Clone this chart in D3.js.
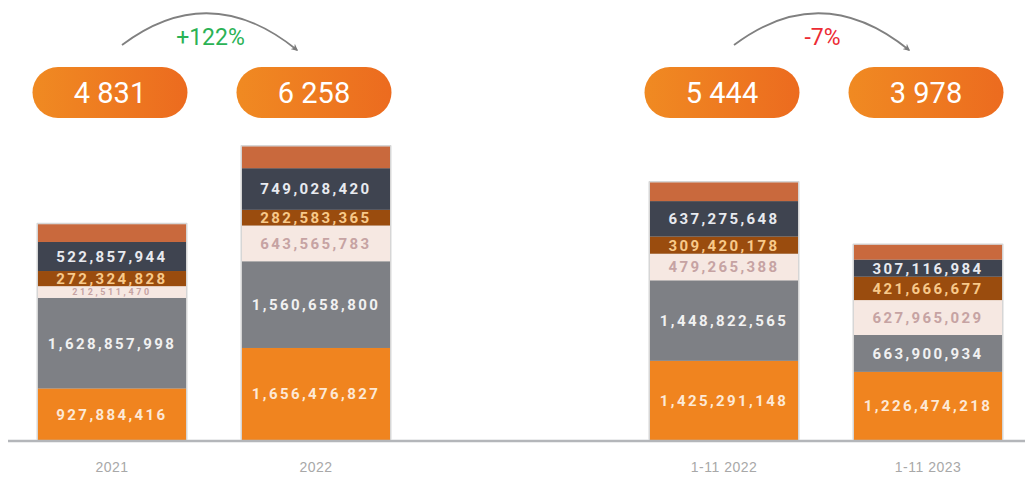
<!DOCTYPE html>
<html>
<head>
<meta charset="utf-8">
<title>Stacked totals</title>
<style>
body {
  margin: 0;
  background: #fff;
  font-family: Roboto, "Open Sans", sans-serif;
}
.seg-label {
  font-weight: 700;
  font-size: 15px;
  letter-spacing: 2.4px;
  text-anchor: middle;
}
.x-label {
  font-size: 14px;
  fill: #a8a8a8;
  text-anchor: middle;
  letter-spacing: 0.5px;
}
</style>
</head>
<body>
<svg id="chart" width="1025" height="477"></svg>

<script src="https://d3js.org/d3.v7.min.js"></script>
<script>

// categories, the empty one is just the gap between the two groups
var categories = ["2021", "2022", "", "1-11 2022", "1-11 2023"];
var barCats = ["2021", "2022", "1-11 2022", "1-11 2023"];
var totals = ["4 831", "6 258", "5 444", "3 978"];
var changes = ["+122%", "-7%"];

// series, bottom to top
var orangeVals = [927884416, 1656476827, 1425291148, 1226474218];
var grayVals   = [1628857998, 1560658800, 1448822565, 663900934];
var lightVals  = [212511470, 643565783, 479265388, 627965029];
var brownVals  = [272324828, 282583365, 309420178, 421666677];
var darkVals   = [522857944, 749028420, 637275648, 307116984];
var topVals    = [318000000, 390000000, 335000000, 265000000];

var series = [
  {key: "orange", values: orangeVals, fill: "#f0841f", text: "#fde9d6", label: true},
  {key: "gray",   values: grayVals,   fill: "#7e8085", text: "#f1f1f1", label: true},
  {key: "light",  values: lightVals,  fill: "#f6e8e2", text: "#c6a3a3", label: true},
  {key: "brown",  values: brownVals,  fill: "#9a4c0e", text: "#f8c98a", label: true},
  {key: "dark",   values: darkVals,   fill: "#3f4450", text: "#e8eaef", label: true},
  {key: "top",    values: topVals,    fill: "#c9693d", text: "#fff",    label: false}
];

var svg = d3.select("#chart");
var fmt = d3.format(",");

var x = d3.scaleBand()
    .domain(categories)
    .range([10, 1030])
    .paddingInner(0.2745)
    .paddingOuter(0.1372);

var y = d3.scaleLinear()
    .domain([0, 5.4e9])
    .range([440, 140]);

// stack rows
var rows = barCats.map(function(c, i) {
  var r = {cat: c};
  series.forEach(function(s) { r[s.key] = s.values[i]; });
  return r;
});
var stack = d3.stack().keys(series.map(function(s) { return s.key; }));
var layers = stack(rows);

var defs = svg.append("defs");
var grad = defs.append("linearGradient").attr("id", "pillGrad");
grad.append("stop").attr("offset", "0%").attr("stop-color", "#f08a22");
grad.append("stop").attr("offset", "100%").attr("stop-color", "#ec6b1f");

defs.append("marker")
    .attr("id", "arrowHead")
    .attr("viewBox", "0 0 10 10")
    .attr("refX", 8).attr("refY", 5)
    .attr("markerWidth", 7).attr("markerHeight", 7)
    .attr("markerUnits", "userSpaceOnUse")
    .attr("orient", "auto")
  .append("path")
    .attr("d", "M0,0 L10,5 L0,10 L3,5 Z")
    .attr("fill", "#7a7a7a");

// bar shadows
svg.append("g").selectAll("rect")
  .data(rows)
  .join("rect")
    .attr("x", function(d) { return x(d.cat) - 1.5; })
    .attr("width", x.bandwidth() + 3)
    .attr("y", function(d, i) { return y(layers[layers.length - 1][i][1]) - 1.5; })
    .attr("height", function(d, i) { return y(0) - y(layers[layers.length - 1][i][1]) + 1.5; })
    .attr("fill", "#d6d6d6")
    .attr("rx", 1);

var layerG = svg.append("g").selectAll("g")
  .data(layers)
  .join("g")
    .attr("fill", function(d, i) { return series[i].fill; });

layerG.selectAll("rect")
  .data(function(d) { return d; })
  .join("rect")
    .attr("x", function(d) { return x(d.data.cat); })
    .attr("width", x.bandwidth())
    .attr("y", function(d) { return y(d[1]); })
    .attr("height", function(d) { return y(d[0]) - y(d[1]); });

// segment value labels (thin segments get a smaller label)
layers.forEach(function(layer, i) {
  var s = series[i];
  if (!s.label) return;
  svg.append("g").selectAll("text")
    .data(layer)
    .join("text")
      .attr("class", "seg-label")
      .attr("x", function(d) { return x(d.data.cat) + x.bandwidth() / 2; })
      .attr("y", function(d) { return (y(d[0]) + y(d[1])) / 2; })
      .attr("dy", "0.36em")
      .attr("fill", s.text)
      .style("font-size", function(d) { return (y(d[0]) - y(d[1])) < 14 ? "9px" : null; })
      .style("letter-spacing", function(d) { return (y(d[0]) - y(d[1])) < 14 ? "2.6px" : null; })
      .text(function(d) { return fmt(d[1] - d[0]); });
});

// baseline
svg.append("line")
    .attr("x1", 8).attr("x2", 1025)
    .attr("y1", y(0) + 1).attr("y2", y(0) + 1)
    .attr("stroke", "#b4b6ba")
    .attr("stroke-width", 2.5);

// x labels
var xAxis = d3.axisBottom(x).tickSize(0).tickPadding(0)
    .tickValues(barCats);
var ax = svg.append("g")
    .attr("transform", "translate(0," + (y(0) + 32) + ")")
    .call(xAxis);
ax.select(".domain").remove();
ax.selectAll("text")
    .attr("class", "x-label")
    .attr("font-family", null)
    .attr("font-size", null)
    .attr("fill", null)
    .attr("dy", 0);

// total pills
var pillW = 155, pillH = 51, pillTop = 67;
var pills = svg.append("g").selectAll("g")
  .data(barCats)
  .join("g")
    .attr("transform", function(d) {
      return "translate(" + (x(d) + x.bandwidth() / 2 - 2) + "," + pillTop + ")";
    });
pills.append("rect")
    .attr("x", -pillW / 2).attr("width", pillW)
    .attr("height", pillH)
    .attr("rx", pillH / 2)
    .attr("fill", "url(#pillGrad)");
pills.append("text")
    .attr("y", pillH / 2)
    .attr("dy", "0.36em")
    .attr("text-anchor", "middle")
    .attr("fill", "#fff")
    .style("font-size", "29px")
    .text(function(d, i) { return totals[i]; });

// change arrows
var pairs = [[barCats[0], barCats[1]], [barCats[2], barCats[3]]];
var changeColors = ["#2bb255", "#ec2b34"];
pairs.forEach(function(p, i) {
  var x0 = x(p[0]) + x.bandwidth() / 2 + 10;
  var x1 = x(p[1]) + x.bandwidth() / 2 - 19;
  var path = d3.path();
  path.moveTo(x0, 45);
  path.quadraticCurveTo((x0 + x1) / 2, -21, x1, 50);
  svg.append("path")
      .attr("d", path.toString())
      .attr("fill", "none")
      .attr("stroke", "#808080")
      .attr("stroke-width", 1.8)
      .attr("marker-end", "url(#arrowHead)");
  svg.append("text")
      .attr("x", (x0 + x1) / 2 + 1)
      .attr("y", 45)
      .attr("text-anchor", "middle")
      .attr("fill", changeColors[i])
      .style("font-size", "23px")
      .text(changes[i]);
});

</script>
</body>
</html>
